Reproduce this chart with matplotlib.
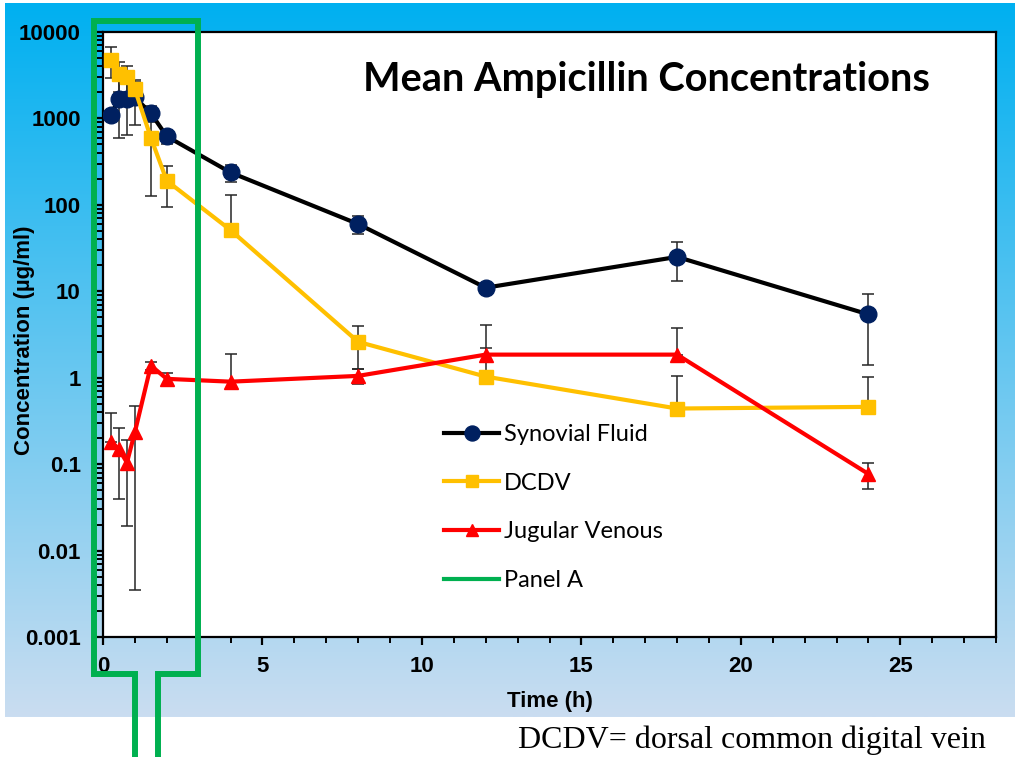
import numpy as np
import matplotlib
matplotlib.use('Agg')
import matplotlib.pyplot as plt
from matplotlib.ticker import MultipleLocator, LogLocator, FuncFormatter, NullFormatter

# data
time = [0.25, 0.5, 0.75, 1, 1.5, 2, 4, 8, 12, 18, 24]
synovial = [1100, 1700, 1700, 1750, 1150, 620, 237, 60, 11, 25, 5.4]
synovial_sd = [150, 1100, 1050, 900, 250, 120, 55, 14.5, 1.5, 12, 4]
dcdv = [4800, 3240, 2990, 2170, 600, 190, 51, 2.6, 1.03, 0.44, 0.46]
dcdv_sd = [1850, 1200, 1000, 600, 475, 95, 80, 1.35, 1.2, 0.6, 0.55]
jugular = [0.18, 0.15, 0.104, 0.235, 1.38, 0.97, 0.9, 1.05, 1.85, 1.85, 0.077]
jugular_sd = [0.21, 0.11, 0.085, 0.2315, 0.15, 0.15, 1.0, 0.2, 2.2, 1.9, 0.025]

W, H = 1015, 757
fig = plt.figure(figsize=(W / 100, H / 100), dpi=100)

# background gradient (pixel coordinates)
bg = fig.add_axes([0, 0, 1, 1], zorder=-5)
bg.set_xlim(0, W)
bg.set_ylim(H, 0)
bg.axis('off')
top = np.array([0, 176, 240]) / 255
bot = np.array([202, 221, 241]) / 255
t = np.linspace(0, 1, 256)[:, None]
grad = (top[None, :] * (1 - t) + bot[None, :] * t)[:, None, :]
bg.imshow(grad, extent=(5, W, 717, 3), aspect='auto', interpolation='bilinear')

# main plot area
l, r, tp, bt = 103, 996, 32, 637
ax = fig.add_axes([l / W, (H - bt) / H, (r - l) / W, (bt - tp) / H])
ax.set_facecolor('white')
ax.set_yscale('log')
ax.set_xlim(0, 28)
ax.set_ylim(0.001, 10000)


def draw(y, sd, lc, mc, marker, ms, label):
    y = np.array(y)
    sd = np.array(sd)
    lo = np.where(y - sd > 0, sd, 0)
    ax.errorbar(time, y, yerr=[lo, sd], fmt='none', ecolor='#262626',
                elinewidth=1.1, capsize=4.5, capthick=1.1, zorder=2)
    ax.plot(time, y, color=lc, lw=3, marker=marker, ms=ms,
            markerfacecolor=mc, markeredgecolor=mc, label=label, zorder=3)


draw(synovial, synovial_sd, 'black', '#002060', 'o', 12, 'Synovial Fluid')
draw(dcdv, dcdv_sd, '#FFC000', '#FFC000', 's', 10, 'DCDV')
draw(jugular, jugular_sd, '#FF0000', '#FF0000', '^', 10, 'Jugular Venous')
ax.plot([], [], color='#00B050', lw=3, label='Panel A')

for s in ax.spines.values():
    s.set_linewidth(1.6)
    s.set_color('black')

ax.xaxis.set_major_locator(MultipleLocator(5))
ax.xaxis.set_minor_locator(MultipleLocator(1))
ax.yaxis.set_major_locator(LogLocator(base=10, numticks=20))
ax.yaxis.set_minor_locator(LogLocator(base=10, subs=np.arange(2, 10), numticks=20))
ax.yaxis.set_minor_formatter(NullFormatter())
ax.yaxis.set_major_formatter(FuncFormatter(lambda v, p: '{:g}'.format(v)))
ax.tick_params(axis='both', which='major', direction='out', length=6, width=1.6,
               labelsize=16)
ax.tick_params(axis='both', which='minor', direction='out', length=4, width=1.4)
ax.tick_params(axis='x', which='major', pad=8)
ax.tick_params(axis='y', which='major', pad=10)
for lab in ax.get_xticklabels() + ax.get_yticklabels():
    lab.set_fontfamily('Liberation Sans')
    lab.set_fontweight('bold')

ax.set_xlabel('Time (h)', fontsize=16, fontweight='bold', family='Liberation Sans',
              labelpad=10)
ax.set_ylabel('Concentration (\u00b5g/ml)', fontsize=16, fontweight='bold',
              family='Liberation Sans')
ax.yaxis.set_label_coords((35 - l) / (r - l), 0.49)

ax.text(0.609, 0.922, 'Mean Ampicillin Concentrations', transform=ax.transAxes,
        ha='center', va='center', fontsize=28.6, fontweight='bold', family='Lato')

leg = ax.legend(loc='upper left', bbox_to_anchor=(444 / W, 1 - 424 / H),
                bbox_transform=fig.transFigure, frameon=False,
                prop={'family': 'Lato', 'size': 17}, handlelength=2.35,
                handletextpad=0.2, labelspacing=1.17, borderpad=0,
                borderaxespad=0, markerscale=0.9)

# green "Panel A" outline and caption, in pixel coordinates
ov = fig.add_axes([0, 0, 1, 1], zorder=10)
ov.set_xlim(0, W)
ov.set_ylim(H, 0)
ov.axis('off')
px = [135, 135, 94, 94, 198.5, 198.5, 158, 158]
py = [757, 674, 674, 21, 21, 674, 674, 757]
ov.plot(px, py, color='#00B050', lw=4.3, solid_joinstyle='miter', clip_on=False)
ov.text(518, 740, 'DCDV= dorsal common digital vein', ha='left', va='center',
        fontsize=23, family='Liberation Serif')

fig.savefig('out.png', dpi=100)
